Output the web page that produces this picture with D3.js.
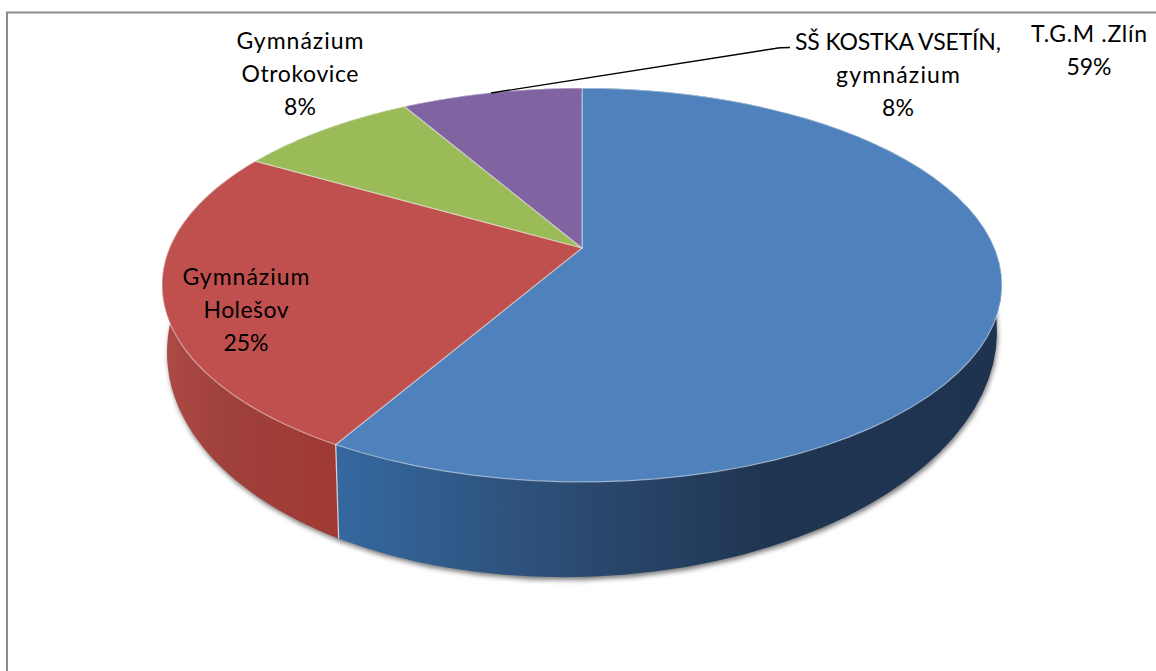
<!DOCTYPE html>
<html><head><meta charset="utf-8">
<script src="https://cdnjs.cloudflare.com/ajax/libs/d3/7.8.5/d3.min.js"></script>
<style>html,body{margin:0;padding:0;background:#fff}svg{display:block}text{font-family:Lato,"Open Sans",sans-serif;font-size:23px;fill:#000;text-anchor:middle}</style>
</head><body><svg id="c" width="1156" height="671"></svg>
<script>
const categories = ["T.G.M .Zlín","Gymnázium Holešov","Gymnázium Otrokovice","SŠ KOSTKA VSETÍN, gymnázium"];
const shares = [58.33,25,8.335,8.335];
const percentLabels = ["59%","25%","8%","8%"];
const nameLines = [["T.G.M .Zlín"],["Gymnázium","Holešov"],["Gymnázium","Otrokovice"],["SŠ KOSTKA VSETÍN,","gymnázium"]];
const labelAnchors = [[1089,42],[246,285],[300,49],[898,50]];
const topColors = ["#4F81BD","#C0504D","#9BBB59","#8064A2"];
const lineWidths = {"Gymnázium":127,"T.G.M .Zlín":116,"SŠ KOSTKA VSETÍN,":206,"Otrokovice":117,"gymnázium":124,"Holešov":85};

const svg = d3.select("#c");
const cx=582, cy=248, R=412.5, S=190, k=0.188;
const proj = a => { const u=Math.sin(a), v=-Math.cos(a), w=1-k*v; return [cx+R*u/w, cy+S*v/w]; };
const low = p => { const x=cx+(p[0]-cx)*415/420; return [x, 342+(p[1]-285)*235/197+(cx-x)*0.025]; };
const line = d3.line();
const arcs = d3.pie().sort(null)(shares);
const samples = d => d3.range(0,61).map(i=>d.startAngle+(d.endAngle-d.startAngle)*i/60);

const defs = svg.append("defs");
const f = defs.append("filter").attr("id","sh").attr("x","-5%").attr("y","-5%").attr("width","110%").attr("height","115%");
f.append("feGaussianBlur").attr("stdDeviation",2.4);
function grad(id,stops){const g=defs.append("linearGradient").attr("id",id).attr("gradientUnits","userSpaceOnUse").attr("x1",162).attr("x2",1002).attr("y1",0).attr("y2",0);
 stops.forEach(s=>g.append("stop").attr("offset",s[0]).attr("stop-color",s[1]));}
grad("g0",[[0.21,"#35689F"],[0.5,"#2B4A70"],[0.72,"#1F3551"],[1,"#1D3350"]]);
grad("g1",[[0,"#AD4A46"],[0.08,"#9F403C"],[0.21,"#A03A32"]]);
grad("g2",[[0,"#7d9447"],[1,"#7d9447"]]);
grad("g3",[[0,"#66508a"],[1,"#66508a"]]);

// frame: only the left and top edges reach into the picture
svg.append("path").attr("d","M7 671V12.5H1156").attr("fill","none").attr("stroke","#8c8c8c").attr("stroke-width",2);

// soft shadow beneath the body
const ring = samples({startAngle:0,endAngle:2*Math.PI}).map(proj).map(low);
svg.append("path").attr("d",line(ring)+"Z").attr("transform","translate(1,3)").attr("fill","#777").attr("filter","url(#sh)");

// side walls
svg.selectAll("path.side").data(arcs).join("path").attr("class","side")
 .attr("d",d=>{const t=samples(d).map(proj); return line(t.concat(t.slice().reverse().map(low)))+"Z";})
 .attr("fill",(d,i)=>`url(#g${i})`);
const seam = proj(arcs[0].endAngle);
svg.append("path").attr("d",line([seam,low(seam)])).attr("stroke","#fff").attr("stroke-opacity",.7).attr("stroke-width",1.3);

// top faces
svg.selectAll("path.top").data(arcs).join("path").attr("class","top")
 .attr("d",d=>line([[cx,cy],...samples(d).map(proj)])+"Z")
 .attr("fill",(d,i)=>topColors[i]).attr("stroke","#fff").attr("stroke-opacity",.45).attr("stroke-width",1.2).attr("stroke-linejoin","round");

// leader
svg.append("path").attr("d","M491 93L775 48.5Q780 47.5 790 47.5").attr("fill","none").attr("stroke","#000").attr("stroke-width",1.4);

// labels
const lh=33;
svg.selectAll("text.lab").data(nameLines.map((n,i)=>n.concat(percentLabels[i]))).join("text").attr("class","lab")
 .attr("y",(d,i)=>labelAnchors[i][1])
 .each(function(d,i){d3.select(this).selectAll("tspan").data(d).join("tspan").attr("x",labelAnchors[i][0]).attr("dy",(t,j)=>j?lh:0)
   .attr("textLength",t=>lineWidths[t]||null).text(t=>t);});
</script></body></html>
